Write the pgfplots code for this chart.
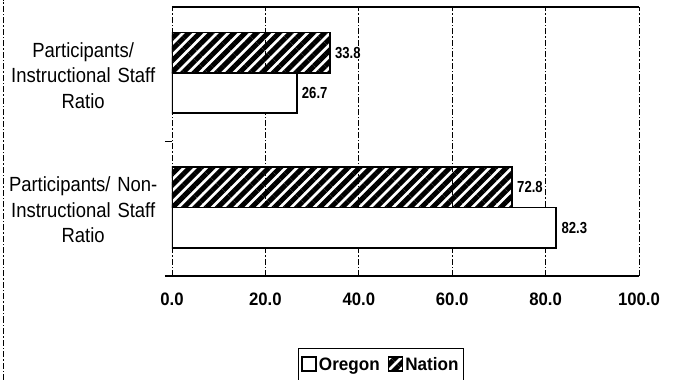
\documentclass[border=0pt]{standalone}
\usepackage{pgfplots}
\pgfplotsset{compat=1.18}
\usepackage{fontspec}
\setmainfont{Liberation Sans}
\newfontfamily\catfont[FakeStretch=0.9]{Liberation Sans}
\newfontfamily\ticfont[FakeStretch=0.93]{Liberation Sans}
\newfontfamily\legfont[FakeStretch=0.95]{Liberation Sans}
\newfontfamily\valfont[FakeStretch=0.82]{Liberation Sans}
\usetikzlibrary{patterns.meta}
\begin{document}
\begin{tikzpicture}
\useasboundingbox (-172pt,-104pt) rectangle (519pt,276pt);
\begin{axis}[
  scale only axis,
  width=467pt, height=269pt,
  xbar, bar width=0.3,
  xmin=0, xmax=100,
  ymin=-0.5, ymax=1.5,
  xtick={0,20,40,60,80,100},
  xmajorgrids,
  major grid style={black, line width=0.7pt, dash pattern=on 6pt off 2pt on 1.5pt off 2pt},
  /pgf/number format/assume math mode=true,
  xticklabel={\pgfmathprintnumber[fixed,fixed zerofill,precision=1]{\tick}},
  xticklabel style={font=\ticfont\bfseries\fontsize{18}{20}\selectfont, yshift=-13pt},
  xtick style={draw=none},
  ytick={0,1},
  ytick pos=left,
  yticklabels={{Participants/ Non-\\Instructional Staff\\Ratio},{Participants/\\Instructional Staff\\Ratio}},
  yticklabel style={font=\catfont\fontsize{20.5}{25.5}\selectfont, align=center, text width=160pt, xshift=-1pt, yshift=-1pt},
  ytick style={draw=none},
  extra y ticks={0.5},
  extra y tick labels={},
  extra y tick style={ytick style={draw=black, line width=0.8pt}, major tick length=7pt, tick align=outside, ytick pos=left},
  separate axis lines,
  x axis line style={line width=1.5pt},
  y axis line style={draw=none},
  legend style={at={(0.4475,-0.268)}, anchor=north, legend columns=2, draw=black, line width=0.7pt,
    font=\legfont\bfseries\fontsize{18}{20}\selectfont, inner xsep=3pt, inner ysep=7pt,
    /tikz/every even column/.append style={column sep=6pt}},
  legend image code/.code={\draw[#1, line width=1.6pt] (0pt,-6pt) rectangle (14pt,8pt);},
  nodes near coords,
  nodes near coords style={font=\valfont\bfseries\fontsize{16}{18}\selectfont, anchor=west, xshift=1pt},
  point meta=explicit symbolic,
]
\addplot[draw=black, line width=1.8pt, fill=white, bar shift=-0.14]
  coordinates {(82.3,0) [82.3] (26.7,1) [26.7]};
\addlegendentry{Oregon}
\addplot[draw=black, line width=1.8pt, fill=white,
  pattern={Lines[angle=45, distance=8pt, line width=5pt]}, pattern color=black, bar shift=0.16]
  coordinates {(72.8,0) [72.8] (33.8,1) [33.8]};
\addlegendentry{Nation}
\end{axis}
\draw[black, line width=1.5pt] (-7pt,0pt) -- (0pt,0pt);
\draw[black, line width=0.7pt, dash pattern=on 6pt off 2pt on 1.5pt off 2pt] (-169pt,-104pt) -- (-169pt,276pt);
\end{tikzpicture}
\end{document}
